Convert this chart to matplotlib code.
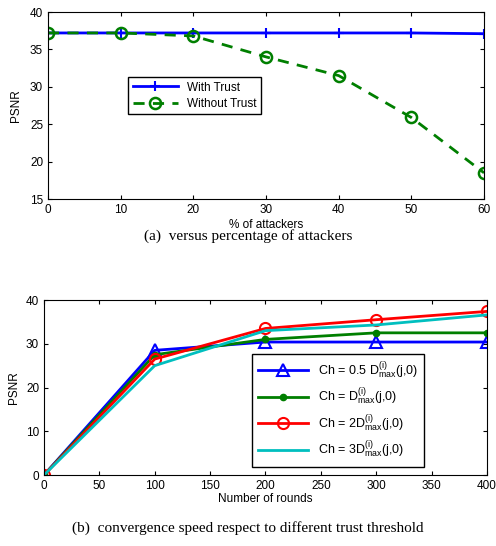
import matplotlib
matplotlib.use('Agg')
import matplotlib.pyplot as plt

plt.rcParams['font.sans-serif'] = ['Liberation Sans', 'DejaVu Sans']
plt.rcParams['font.family'] = 'sans-serif'
plt.rcParams['mathtext.default'] = 'regular'
plt.rcParams['xtick.direction'] = 'in'
plt.rcParams['ytick.direction'] = 'in'

# (a) PSNR vs percentage of attackers
attackers = [0, 10, 20, 30, 40, 50, 60]
with_trust = [37.2, 37.2, 37.2, 37.2, 37.2, 37.2, 37.1]
without_trust = [37.2, 37.2, 36.8, 34.0, 31.5, 25.9, 18.5]

# (b) PSNR vs number of rounds
rounds = [0, 100, 200, 300, 400]
ch_half = [0, 28.5, 30.4, 30.4, 30.4]
ch_one = [0, 27.5, 31.0, 32.5, 32.5]
ch_two = [0, 26.5, 33.5, 35.5, 37.4]
ch_three = [0, 25.0, 33.0, 34.3, 36.6]

BLUE = '#0000ff'
GREEN = '#007f00'
RED = '#ff0000'
CYAN = '#00bfbf'
FS = 8.5

fig = plt.figure(figsize=(4.96, 5.46), dpi=100)

ax1 = fig.add_axes([0.0968, 0.6355, 0.879, 0.3425])
ax1.plot(attackers, with_trust, color=BLUE, linewidth=2, marker='+',
         markersize=7, markeredgewidth=1.5, label='With Trust')
ax1.plot(attackers, without_trust, color=GREEN, linewidth=2, linestyle='--',
         marker='o', markersize=8, markerfacecolor='none', markeredgewidth=1.8,
         label='Without Trust', dashes=(4, 3))
ax1.set_xlim(0, 60)
ax1.set_ylim(15, 40)
ax1.set_xticks(attackers)
ax1.set_yticks([15, 20, 25, 30, 35, 40])
ax1.tick_params(labelsize=FS, top=True, right=True, length=3)
ax1.set_xlabel('% of attackers', fontsize=FS, labelpad=2)
ax1.set_ylabel('PSNR', fontsize=FS, labelpad=6)
ax1.legend(loc='upper left', bbox_to_anchor=(0.17, 0.685), fontsize=FS,
           fancybox=False, edgecolor='black', framealpha=1, handlelength=3.8,
           borderpad=0.4, labelspacing=0.35)

fig.text(0.5, 0.567, '(a)  versus percentage of attackers', ha='center',
         va='center', fontsize=11, family='Liberation Serif')

ax2 = fig.add_axes([0.0887, 0.130, 0.893, 0.3205])
ax2.plot(rounds, ch_half, color=BLUE, linewidth=2, marker='^', markersize=8,
         markerfacecolor='none', markeredgewidth=1.5,
         label=r'Ch = 0.5 $D^{(i)}_{max}$(j,0)')
ax2.plot(rounds, ch_one, color=GREEN, linewidth=2, marker='o', markersize=4.5,
         label=r'Ch = $D^{(i)}_{max}$(j,0)')
ax2.plot(rounds, ch_two, color=RED, linewidth=2, marker='o', markersize=8,
         markerfacecolor='none', markeredgewidth=1.5,
         label=r'Ch = 2$D^{(i)}_{max}$(j,0)')
ax2.plot(rounds, ch_three, color=CYAN, linewidth=2,
         label=r'Ch = 3$D^{(i)}_{max}$(j,0)')
ax2.set_xlim(0, 400)
ax2.set_ylim(0, 40)
ax2.set_xticks(range(0, 401, 50))
ax2.set_yticks([0, 10, 20, 30, 40])
ax2.tick_params(labelsize=FS, top=True, right=True, length=3)
ax2.set_xlabel('Number of rounds', fontsize=FS, labelpad=1)
ax2.set_ylabel('PSNR', fontsize=FS, labelpad=4)
ax2.legend(loc='upper left', bbox_to_anchor=(0.455, 0.725), fontsize=9,
           fancybox=False, edgecolor='black', framealpha=1, handlelength=4,
           borderpad=0.5, labelspacing=0.5)

fig.text(0.5, 0.033, '(b)  convergence speed respect to different trust threshold',
         ha='center', va='center', fontsize=11, family='Liberation Serif')

fig.savefig('out.png', dpi=100)
